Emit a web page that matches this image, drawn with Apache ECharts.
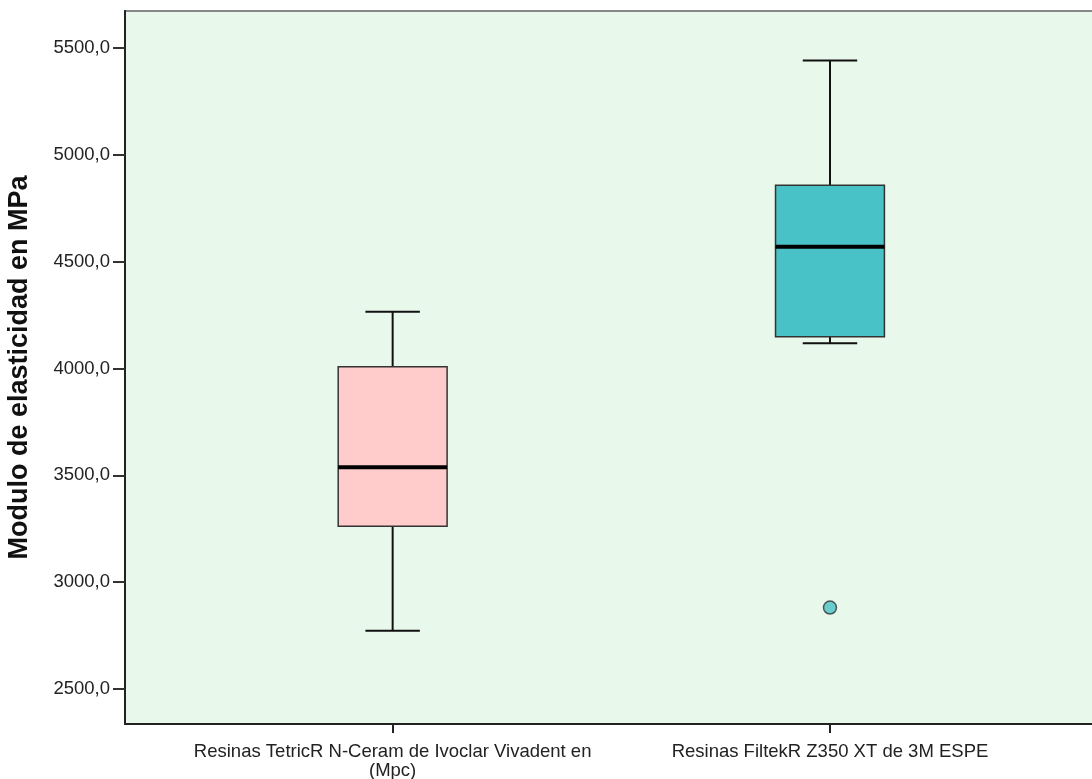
<!DOCTYPE html>
<html>
<head>
<meta charset="utf-8">
<script src="https://cdn.jsdelivr.net/npm/echarts@6/dist/echarts.min.js"></script>
<style>
html,body{margin:0;padding:0;background:#fff;}
#chart{width:1092px;height:779px;}
</style>
</head>
<body>
<div id="chart"></div>
<script>
// ---- data ----
const categories = [
  'Resinas TetricR N-Ceram de Ivoclar Vivadent en\n(Mpc)',
  'Resinas FiltekR Z350 XT de 3M ESPE'
];
// [min whisker, Q1, median, Q3, max whisker]
const boxTetric = [2773, 3261, 3538, 4008, 4266];
const boxFiltek = [4118, 4149, 4570, 4857, 5441];
const outliers = [[1, 2881]];
const yTicks = [2500, 3000, 3500, 4000, 4500, 5000, 5500];
const yTitle = 'Modulo de elasticidad en MPa';

// ---- styles ----
const boxColors = ['#ffcccb', '#48c2c6'];

const boxRows = [boxTetric, boxFiltek].map((b, i) => [i].concat(b));

const chart = echarts.init(document.getElementById('chart'), null, {renderer: 'canvas'});

function renderBox(params, api) {
  const x = api.value(0);
  const lo = api.coord([x, api.value(1)]);
  const q1 = api.coord([x, api.value(2)]);
  const med = api.coord([x, api.value(3)]);
  const q3 = api.coord([x, api.value(4)]);
  const hi = api.coord([x, api.value(5)]);
  const bw = api.size([1, 0])[0] * 0.249;
  const cw = bw / 2;
  const cx = lo[0];
  const lineStyle = {stroke: '#111', lineWidth: 2};
  return {
    type: 'group',
    children: [
      {type: 'line', shape: {x1: cx, y1: hi[1], x2: cx, y2: q3[1]}, style: lineStyle},
      {type: 'line', shape: {x1: cx, y1: q1[1], x2: cx, y2: lo[1]}, style: lineStyle},
      {type: 'line', shape: {x1: cx - cw / 2, y1: hi[1], x2: cx + cw / 2, y2: hi[1]}, style: lineStyle},
      {type: 'line', shape: {x1: cx - cw / 2, y1: lo[1], x2: cx + cw / 2, y2: lo[1]}, style: lineStyle},
      {type: 'rect', shape: {x: cx - bw / 2, y: q3[1], width: bw, height: q1[1] - q3[1]},
        style: {fill: boxColors[params.dataIndex], stroke: '#333', lineWidth: 1.5}},
      {type: 'line', shape: {x1: cx - bw / 2, y1: med[1], x2: cx + bw / 2, y2: med[1]},
        style: {stroke: '#000', lineWidth: 4}}
    ]
  };
}

const option = {
  animation: false,
  backgroundColor: '#ffffff',
  grid: {
    left: 125, right: -3, top: 11, bottom: 55,
    outerBoundsMode: 'none',
    containLabel: false,
    show: true, backgroundColor: '#e8f8ea', borderColor: '#888', borderWidth: 2
  },
  xAxis: {
    type: 'value',
    min: -0.612, max: 1.606,
    splitLine: {show: false},
    axisLine: {show: true, onZero: false, lineStyle: {color: '#222', width: 2}},
    axisTick: {show: true, customValues: [0, 1], length: 9, lineStyle: {color: '#222', width: 2}},
    axisLabel: {
      customValues: [0, 1],
      formatter: v => categories[Math.round(v)] || '',
      fontFamily: 'Liberation Sans, Arial, sans-serif',
      fontSize: 18.5, color: '#222', margin: 18, lineHeight: 19, align: 'center'
    }
  },
  yAxis: {
    type: 'value',
    min: 2336, max: 5673,
    splitLine: {show: false},
    axisLine: {show: true, onZero: false, lineStyle: {color: '#222', width: 2}},
    axisTick: {show: true, customValues: yTicks, length: 12, lineStyle: {color: '#333', width: 2}},
    axisLabel: {
      customValues: yTicks,
      formatter: v => v.toFixed(1).replace('.', ','),
      fontFamily: 'Liberation Sans, Arial, sans-serif',
      fontSize: 18.5, color: '#222', margin: 15
    },
    name: yTitle,
    nameLocation: 'middle',
    nameRotate: 90,
    nameGap: 92,
    nameTextStyle: {
      fontFamily: 'Liberation Sans, Arial, sans-serif',
      fontSize: 27, fontWeight: 'bold', color: '#111'
    }
  },
  series: [
    {
      type: 'custom',
      renderItem: renderBox,
      encode: {x: 0, y: [1, 2, 3, 4, 5]},
      data: boxRows,
      z: 2
    },
    {
      type: 'scatter',
      data: outliers,
      symbol: 'circle',
      symbolSize: 13,
      itemStyle: {color: boxColors[1], borderColor: '#333', borderWidth: 1.5},
      z: 3
    }
  ]
};
chart.setOption(option);
</script>
</body>
</html>
